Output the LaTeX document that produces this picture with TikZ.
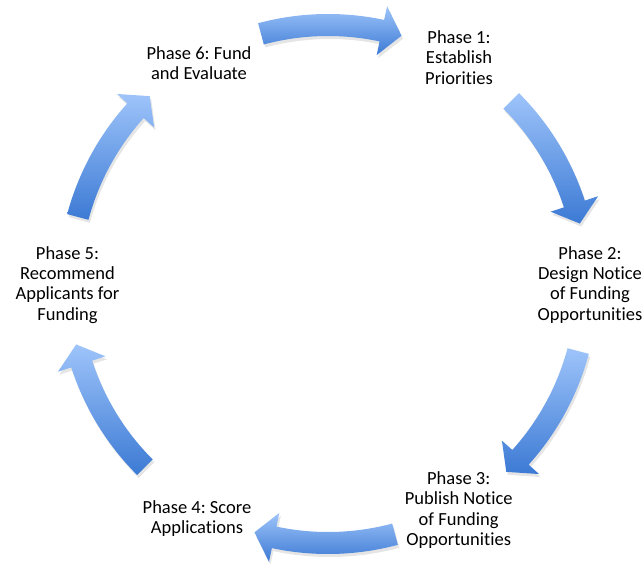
\documentclass[tikz,border=0pt]{standalone}
\usepackage{fontspec}
\setmainfont{Carlito}[Ligatures={NoCommon}]
\frenchspacing
\definecolor{arrlight}{RGB}{158,196,250}
\definecolor{arrdark}{RGB}{60,122,212}
\newcommand\CycR{259}
\newcommand\CycW{11}
\newcommand\CycH{25}
\newcommand\CycArrow[1]{%
  \pgfmathsetmacro\aT{#1+15}%
  \pgfmathsetmacro\aB{#1-12}%
  \pgfmathsetmacro\aP{#1-16.5}%
  \pgfmathsetmacro\rO{\CycR+\CycW}%
  \pgfmathsetmacro\rI{\CycR-\CycW}%
  \pgfmathsetmacro\rHO{\CycR+\CycH}%
  \pgfmathsetmacro\rHI{\CycR-\CycH}%
  \path[arrowshade] (\aT:\rO pt) arc[start angle=\aT, end angle=\aB, radius=\rO pt]
     -- (\aB:\rHO pt) -- (\aP:\CycR pt) -- (\aB:\rHI pt) -- (\aB:\rI pt)
     arc[start angle=\aB, end angle=\aT, radius=\rI pt] -- cycle;
}
\tikzset{
  phase/.style={anchor=base, align=center, inner sep=0pt, text=black,
    font=\fontsize{18.5}{20.3}\selectfont},
  arrowshade/.style={top color=arrlight, bottom color=arrdark, draw=none,
    preaction={fill=black, opacity=0.10,
      transform canvas={shift={(1.5pt,-3pt)}}}},
}
\begin{document}
\begin{tikzpicture}[x=1pt,y=1pt]
\useasboundingbox (0,0) rectangle (642,563);
\begin{scope}[shift={(328,279)}]
  \CycArrow{90}
  \CycArrow{30}
  \CycArrow{-30}
  \CycArrow{-90}
  \CycArrow{-150}
  \CycArrow{150}
\end{scope}
\node[phase] (p1) at (459,478.7) {Phase 1:\\Establish\\Priorities};
\node[phase] (p2) at (590,243) {Phase 2:\\Design Notice\\of Funding\\Opportunities};
\node[phase] (p3) at (458.7,17.7) {Phase 3:\\Publish Notice\\of Funding\\Opportunities};
\node[phase] (p4) at (197,29.7) {Phase 4: Score\\Applications};
\node[phase] (p5) at (67.5,243) {Phase 5:\\Recommend\\Applicants for\\Funding};
\node[phase] (p6) at (199,483) {Phase 6: Fund\\and Evaluate};
\end{tikzpicture}
\end{document}
